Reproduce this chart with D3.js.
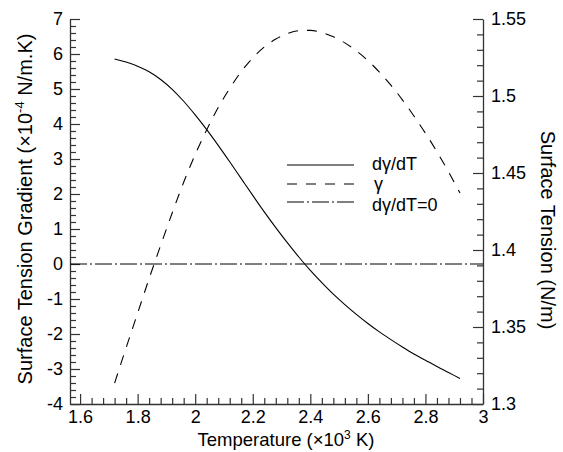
<!DOCTYPE html>
<html>
<head>
<meta charset="utf-8">
<script src="https://cdn.jsdelivr.net/npm/d3@7"></script>
<style>
  html, body { margin: 0; padding: 0; background: #fff; }
  svg { display: block; font-family: "Liberation Sans", Arial, Helvetica, sans-serif; }
</style>
</head>
<body>
<svg id="chart" width="563" height="452"></svg>
<script>
// Temperature samples (x10^3 K)
const temperature = [1.72, 1.76, 1.80, 1.84, 1.88, 1.92, 1.96, 2.00, 2.04, 2.08,
  2.12, 2.16, 2.20, 2.24, 2.28, 2.32, 2.36, 2.40, 2.44, 2.48,
  2.52, 2.56, 2.60, 2.64, 2.68, 2.72, 2.76, 2.80, 2.84, 2.88, 2.92];

// Surface tension gradient dγ/dT (x10^-4 N/m.K), left axis
const gradient = [5.86, 5.77, 5.65, 5.49, 5.27, 4.99, 4.65, 4.26, 3.84, 3.39,
  2.92, 2.44, 1.96, 1.49, 1.04, 0.61, 0.20, -0.18, -0.53, -0.86,
  -1.16, -1.44, -1.70, -1.94, -2.16, -2.37, -2.57, -2.75, -2.93, -3.10, -3.27];

// Surface tension γ (N/m), right axis
const tension = [1.3136, 1.3365, 1.3590, 1.3815, 1.4030, 1.4240, 1.4440, 1.4620, 1.4780, 1.4925,
  1.5050, 1.5158, 1.5248, 1.5318, 1.5370, 1.5405, 1.5424, 1.5426, 1.5412, 1.5385,
  1.5345, 1.5293, 1.5230, 1.5155, 1.5070, 1.4975, 1.4870, 1.4758, 1.4638, 1.4508, 1.4370];

// Axis ticks
const xTicks = [1.6, 1.8, 2.0, 2.2, 2.4, 2.6, 2.8, 3.0];
const yLeftTicks = [-4, -3, -2, -1, 0, 1, 2, 3, 4, 5, 6, 7];
const yRightTicks = [1.3, 1.35, 1.4, 1.45, 1.5, 1.55];

// Legend entries
const legendLabels = ["dγ/dT", "γ", "dγ/dT=0"];

const svg = d3.select("#chart");
const plotLeft = 70, plotRight = 483, plotTop = 19, plotBottom = 404;
const axisColor = "#333";

const x = d3.scaleLinear().domain([1.565, 3.0]).range([plotLeft, plotRight]);
const yL = d3.scaleLinear().domain([-4, 7]).range([plotBottom, plotTop]);
const yR = d3.scaleLinear().domain([1.3, 1.55]).range([plotBottom, plotTop]);

const fmt1 = d => String(+d.toFixed(1));
const fmt2 = d => String(+d.toFixed(2));

// Minor tick positions
const xMinor = d3.range(1.6, 3.0001, 0.04).filter(v => Math.abs(v * 5 - Math.round(v * 5)) > 1e-6);
const yLMinor = d3.range(-4, 7.0001, 0.2).filter(v => Math.abs(v - Math.round(v)) > 1e-6);
const yRMinor = d3.range(1.3, 1.5501, 0.01).filter(v => Math.abs(v * 20 - Math.round(v * 20)) > 1e-6);

function tickStyle(g) {
  g.selectAll(".tick line").attr("stroke-width", 1.2);
}

// Minor ticks (no domain line)
svg.append("g").attr("transform", `translate(0,${plotBottom})`).attr("color", axisColor)
  .call(d3.axisBottom(x).tickValues(xMinor).tickSize(-6).tickFormat(""))
  .call(g => g.select(".domain").remove()).call(tickStyle);
svg.append("g").attr("transform", `translate(${plotLeft},0)`).attr("color", axisColor)
  .call(d3.axisLeft(yL).tickValues(yLMinor).tickSize(-6).tickFormat(""))
  .call(g => g.select(".domain").remove()).call(tickStyle);
svg.append("g").attr("transform", `translate(${plotRight},0)`).attr("color", axisColor)
  .call(d3.axisRight(yR).tickValues(yRMinor).tickSize(-6).tickFormat(""))
  .call(g => g.select(".domain").remove()).call(tickStyle);

// Major axes
function labelStyle(g) {
  g.selectAll(".tick text").attr("fill", "#000").attr("font-size", 18)
    .attr("font-family", "Liberation Sans, Arial, sans-serif");
  g.select(".domain").attr("stroke-width", 1.3);
  tickStyle(g);
}
svg.append("g").attr("transform", `translate(0,${plotBottom})`).attr("color", axisColor)
  .call(d3.axisBottom(x).tickValues(xTicks).tickSize(-10).tickSizeOuter(0).tickPadding(6).tickFormat(fmt1))
  .call(labelStyle);
svg.append("g").attr("transform", `translate(${plotLeft},0)`).attr("color", axisColor)
  .call(d3.axisLeft(yL).tickValues(yLeftTicks).tickSize(-10).tickSizeOuter(0).tickPadding(7).tickFormat(d => String(d)))
  .call(labelStyle);
svg.append("g").attr("transform", `translate(${plotRight},0)`).attr("color", axisColor)
  .call(d3.axisRight(yR).tickValues(yRightTicks).tickSize(-10).tickSizeOuter(0).tickPadding(8).tickFormat(fmt2))
  .call(labelStyle);

// Zero-gradient reference line
svg.append("line")
  .attr("x1", plotLeft).attr("x2", plotRight)
  .attr("y1", yL(0)).attr("y2", yL(0))
  .attr("stroke", "#000").attr("stroke-width", 1)
  .attr("stroke-dasharray", "17,3,2,3");

// Gradient curve (solid)
const lineL = d3.line().x((d, i) => x(temperature[i])).y(d => yL(d)).curve(d3.curveMonotoneX);
svg.append("path").datum(gradient)
  .attr("d", lineL).attr("fill", "none").attr("stroke", "#000").attr("stroke-width", 1.1);

// Surface tension curve (dashed)
const lineR = d3.line().x((d, i) => x(temperature[i])).y(d => yR(d)).curve(d3.curveMonotoneX);
svg.append("path").datum(tension)
  .attr("d", lineR).attr("fill", "none").attr("stroke", "#000").attr("stroke-width", 1.1)
  .attr("stroke-dasharray", "10,9");

// Legend
const legendStyles = [null, "10,9", "17,3,2,3"];
const legendY = [165, 184, 202];
const legendTextY = [170, 190, 211];
const lg = svg.append("g");
legendLabels.forEach((label, i) => {
  lg.append("line")
    .attr("x1", 287).attr("x2", 354)
    .attr("y1", legendY[i]).attr("y2", legendY[i])
    .attr("stroke", "#000").attr("stroke-width", 1.1)
    .attr("stroke-dasharray", legendStyles[i]);
  lg.append("text")
    .attr("x", i === 1 ? 374 : 372).attr("y", legendTextY[i])
    .attr("font-size", 18).text(label);
});

// Axis titles
const xt = svg.append("text").attr("x", 286).attr("y", 446)
  .attr("text-anchor", "middle").attr("font-size", 18.5);
xt.append("tspan").text("Temperature (×10");
xt.append("tspan").attr("dy", -7).attr("font-size", 12).text("3");
xt.append("tspan").attr("dy", 7).text(" K)");

const ylt = svg.append("text")
  .attr("transform", "translate(32,209) rotate(-90)")
  .attr("text-anchor", "middle").attr("font-size", 20);
ylt.append("tspan").text("Surface Tension Gradient (×10");
ylt.append("tspan").attr("dy", -8).attr("font-size", 13).text("-4");
ylt.append("tspan").attr("dy", 8).text(" N/m.K)");

svg.append("text")
  .attr("transform", "translate(541,230) rotate(90)")
  .attr("text-anchor", "middle").attr("font-size", 20)
  .text("Surface Tension (N/m)");
</script>
</body>
</html>
